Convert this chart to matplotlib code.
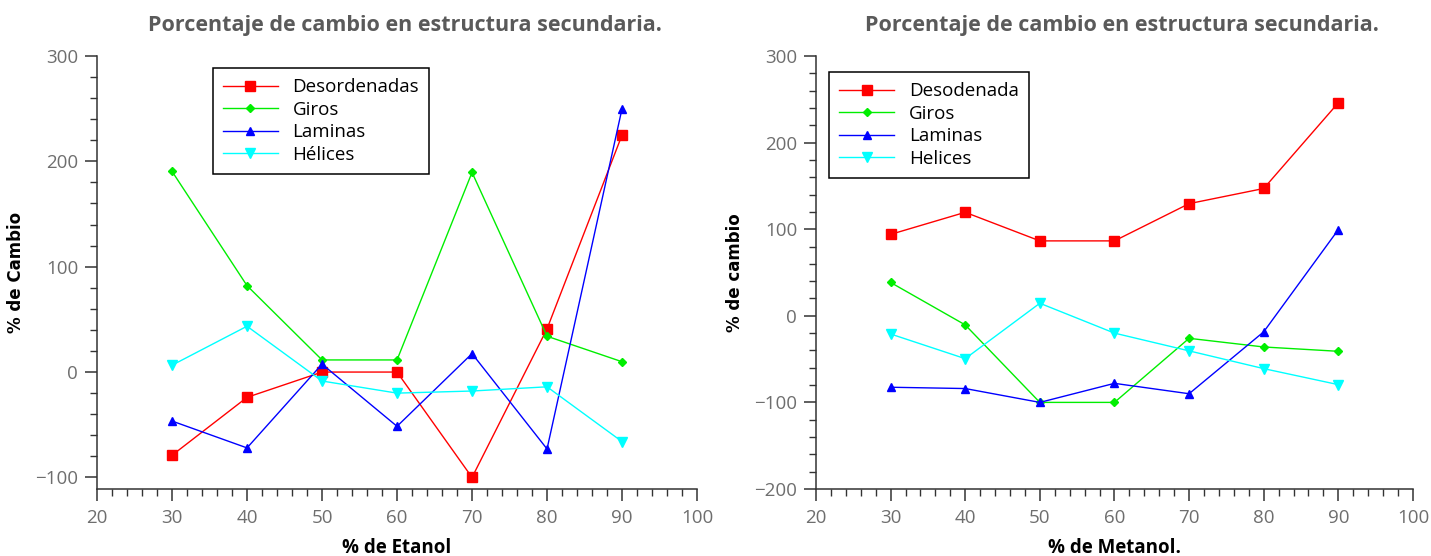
import matplotlib
matplotlib.use("Agg")
import matplotlib.pyplot as plt
from matplotlib.ticker import MultipleLocator

# Percent solvent in the mixture
x_vals = [30, 40, 50, 60, 70, 80, 90]

# Ethanol series (% change)
etanol_desordenadas = [-79, -24, 0, 0, -100, 41, 225]
etanol_giros = [190.5, 82, 11.5, 11.5, 189.5, 34, 9.8]
etanol_laminas = [-46.5, -72, 7.5, -51.5, 17.5, -73, 250]
etanol_helices = [6.5, 43.5, -8.5, -20, -18, -14, -66]

# Methanol series (% change)
metanol_desordenada = [94, 119.5, 86.5, 86.5, 129.5, 147, 246]
metanol_giros = [38.5, -10.5, -100, -100, -26, -36, -41]
metanol_laminas = [-82.5, -84, -100, -78, -90, -18.5, 99.5]
metanol_helices = [-21, -49.5, 14.5, -20, -40.5, -61, -79.5]

title_text = "Porcentaje de cambio en estructura secundaria."
etanol_labels = ["Desordenadas", "Giros", "Laminas", "Hélices"]
metanol_labels = ["Desodenada", "Giros", "Laminas", "Helices"]

colors = ["#ff0000", "#00ee00", "#0000ff", "#00ffff"]
markers = ["s", "D", "^", "v"]
msizes = [7.5, 4.5, 6, 6.5]

TICK_GRAY = "#6e6e6e"
TITLE_GRAY = "#5a5a5a"
SPINE = "#333333"

fig = plt.figure(figsize=(14.31, 5.56), dpi=100)
ax1 = fig.add_axes([0.0678, 0.1205, 0.4193, 0.7788])
ax2 = fig.add_axes([0.5702, 0.1205, 0.4172, 0.7788])


def style_axes(ax, ylim, xlabel, ylabel):
    ax.set_xlim(20, 100)
    ax.set_ylim(*ylim)
    ax.xaxis.set_major_locator(MultipleLocator(10))
    ax.xaxis.set_minor_locator(MultipleLocator(2))
    ax.yaxis.set_major_locator(MultipleLocator(100))
    ax.yaxis.set_minor_locator(MultipleLocator(20))
    for s in ("top", "right"):
        ax.spines[s].set_visible(False)
    for s in ("left", "bottom"):
        ax.spines[s].set_color(SPINE)
        ax.spines[s].set_linewidth(1.1)
    ax.tick_params(axis="both", which="major", direction="out", length=8.6,
                   width=1.1, color=SPINE, labelcolor=TICK_GRAY, labelsize=13.5)
    ax.tick_params(axis="both", which="minor", direction="out", length=5,
                   width=1.0, color=SPINE)
    ax.tick_params(axis="x", which="major", pad=6)
    ax.tick_params(axis="y", which="major", pad=5)
    for lab in ax.get_xticklabels() + ax.get_yticklabels():
        lab.set_family("Open Sans")
    ax.yaxis.set_major_formatter(matplotlib.ticker.FuncFormatter(
        lambda v, p: ("\u2212%d" % abs(v)) if v < 0 else "%d" % v))
    ax.set_xlabel(xlabel, family="Open Sans", fontweight="bold", fontsize=13.5,
                  color="black", labelpad=8)
    ax.set_ylabel(ylabel, family="DejaVu Sans", fontweight="bold", fontsize=12,
                  color="black", labelpad=7)
    t = ax.set_title(title_text, family="Open Sans", fontweight="bold",
                     fontsize=15.5, color=TITLE_GRAY, pad=18)
    t.set_x(0.513)


def draw(ax, series, labels, anchor):
    for ys, lab, c, m, ms in zip(series, labels, colors, markers, msizes):
        ax.plot(x_vals, ys, color=c, marker=m, markersize=ms, linewidth=1.0,
                markeredgecolor=c, label=lab, clip_on=False)
    leg = ax.legend(loc="upper left", bbox_to_anchor=anchor, borderaxespad=0,
                    fancybox=False, framealpha=1, edgecolor="black",
                    prop={"family": "Open Sans", "size": 13.5},
                    handlelength=2.9, handletextpad=0.8, labelspacing=0.24,
                    borderpad=0.55)
    leg.get_frame().set_linewidth(1.1)


draw(ax1, [etanol_desordenadas, etanol_giros, etanol_laminas, etanol_helices],
     etanol_labels, (0.193, 0.972))
style_axes(ax1, (-111, 300), "% de Etanol", "% de Cambio")

draw(ax2, [metanol_desordenada, metanol_giros, metanol_laminas, metanol_helices],
     metanol_labels, (0.022, 0.963))
style_axes(ax2, (-200, 300), "% de Metanol.", "% de cambio")

fig.savefig("out.png", dpi=100)
